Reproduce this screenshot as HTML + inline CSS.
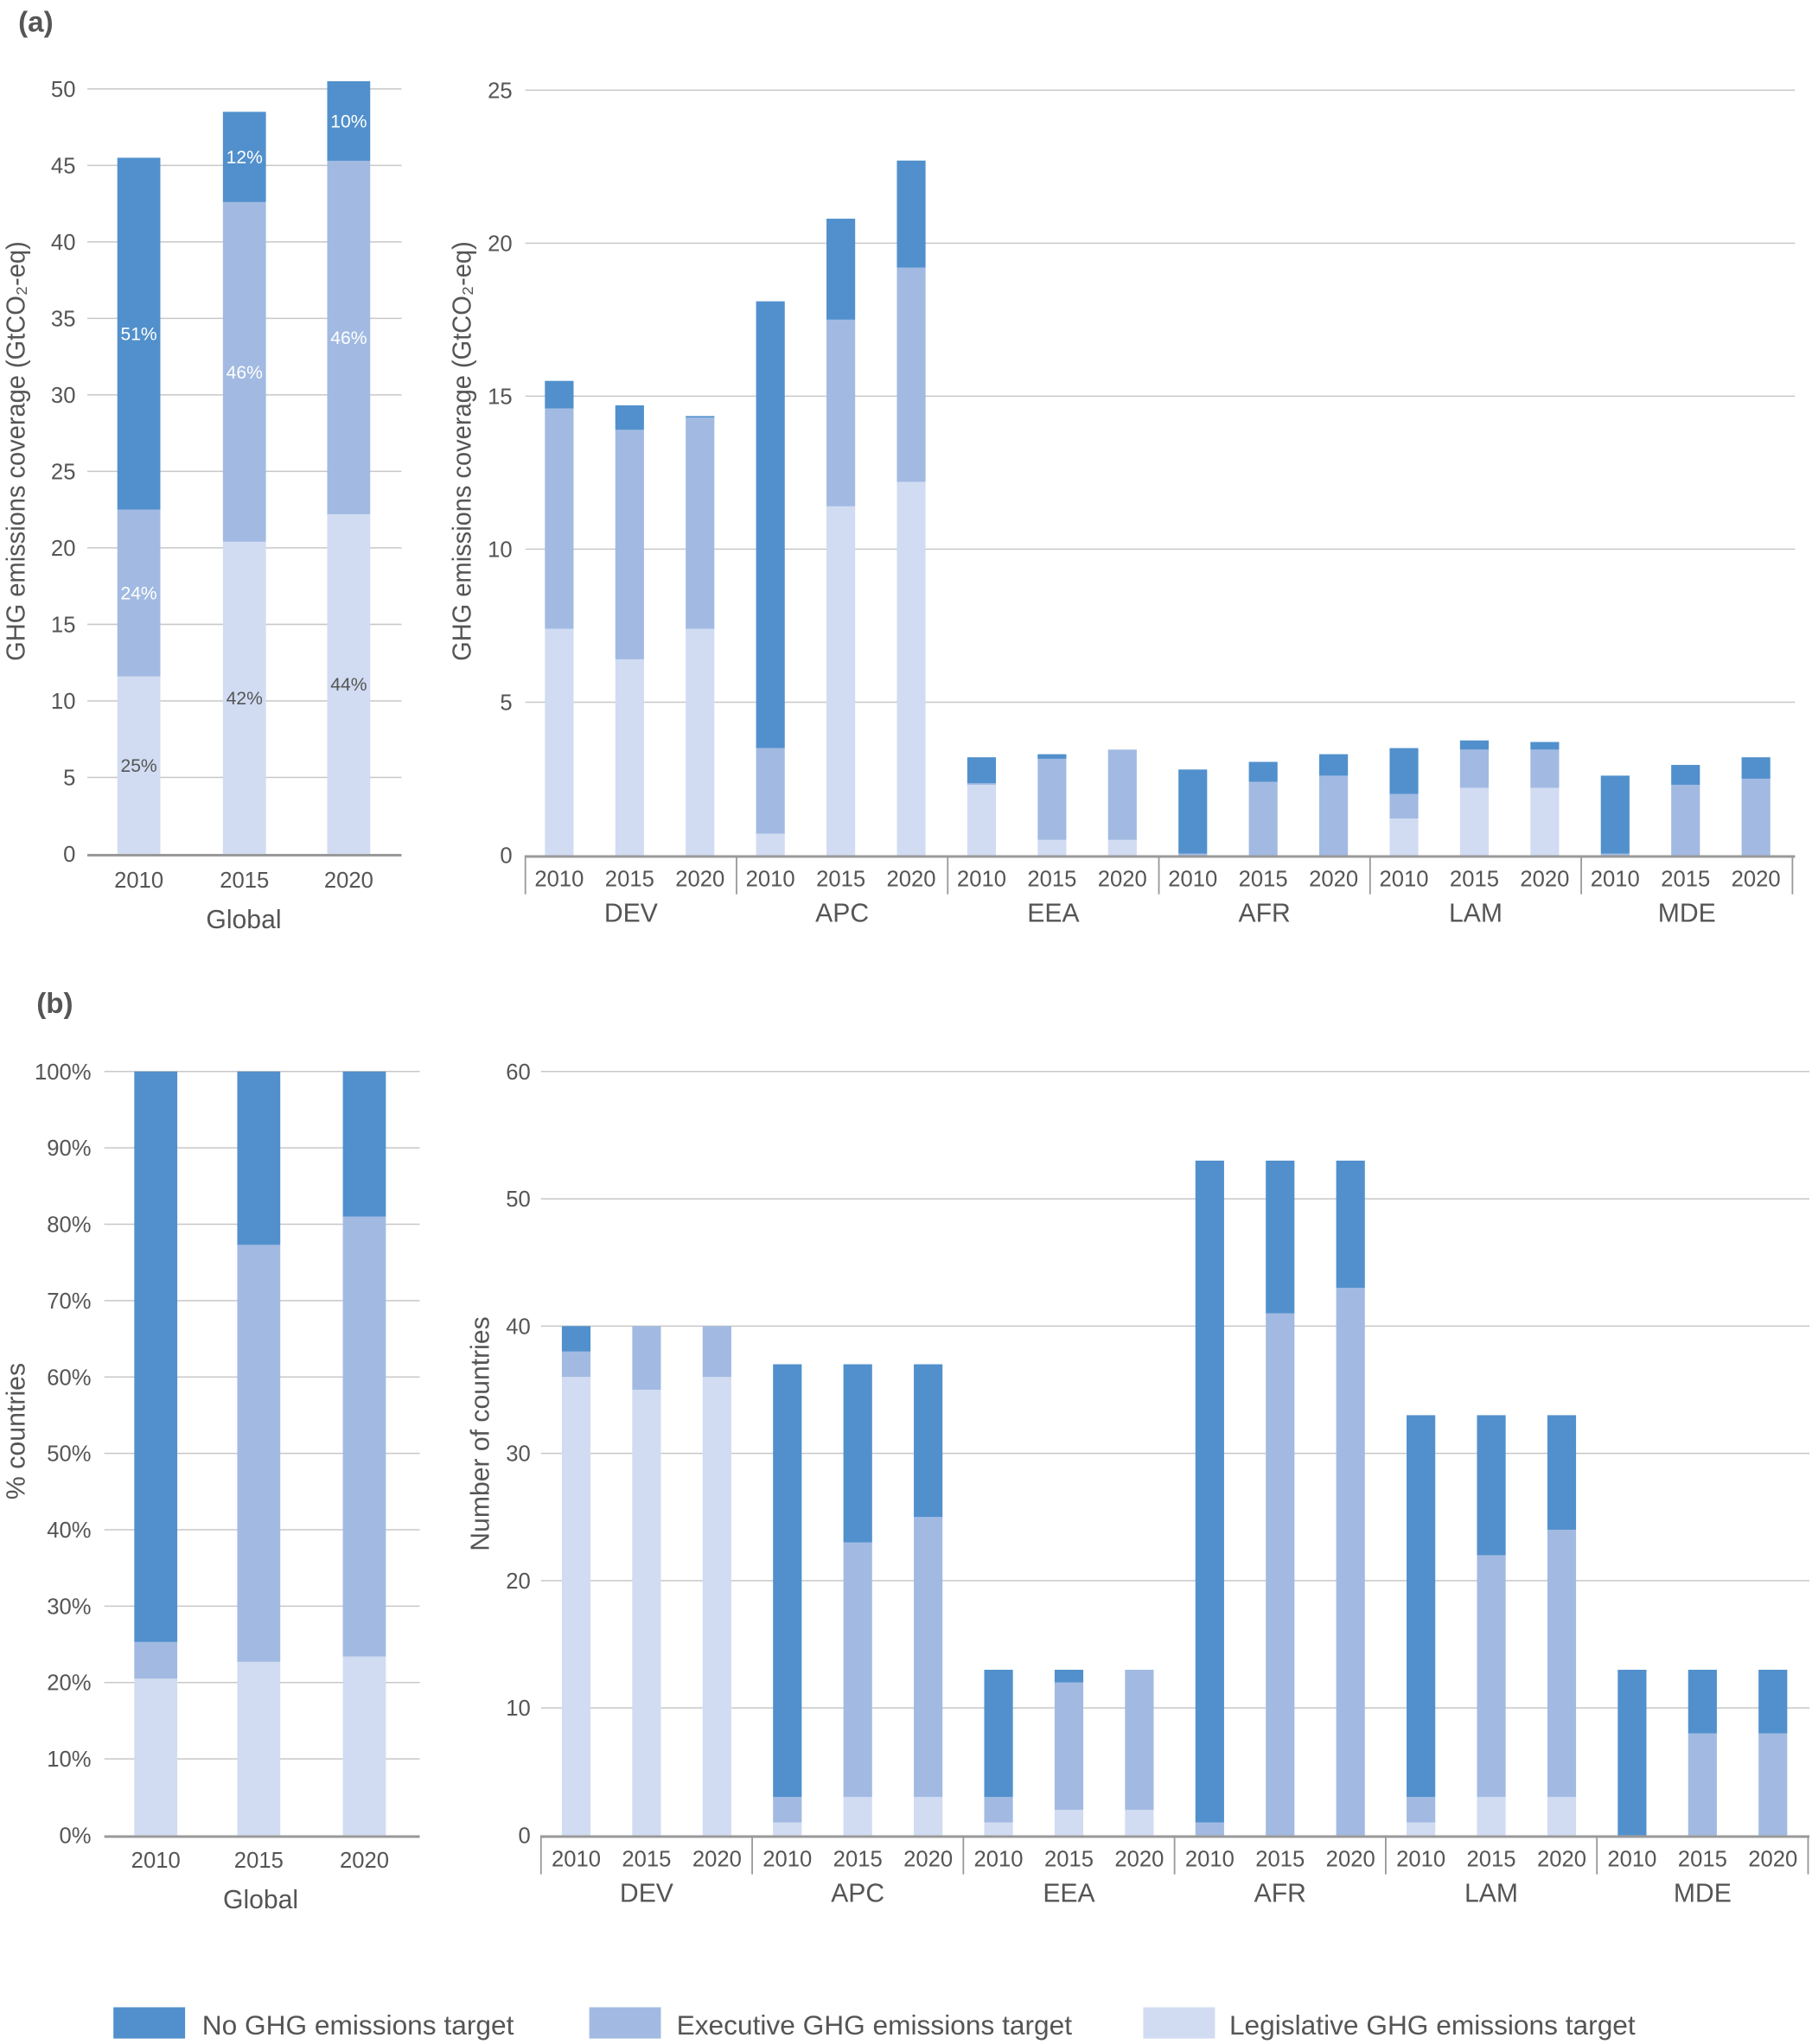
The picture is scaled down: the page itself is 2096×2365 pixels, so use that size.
<!DOCTYPE html>
<html><head><meta charset="utf-8"><style>
html,body{margin:0;padding:0;background:#fff}
svg{display:block}
text{font-family:"Liberation Sans",sans-serif;fill:#555}
</style></head><body>
<svg id="fig" width="2096" height="2365" viewBox="0 0 1390 1568" xmlns="http://www.w3.org/2000/svg">
<text x="14" y="24" font-size="22" font-weight="bold">(a)</text>
<text x="28" y="777" font-size="22" font-weight="bold">(b)</text>
<g>
<rect x="87" y="1540" width="55" height="24" fill="#5190cc"/>
<text x="155" y="1561" font-size="21">No GHG emissions target</text>
<rect x="452" y="1540" width="55" height="24" fill="#a2bae2"/>
<text x="519" y="1561" font-size="21">Executive GHG emissions target</text>
<rect x="877" y="1540" width="55" height="24" fill="#d1dcf2"/>
<text x="943" y="1561" font-size="21">Legislative GHG emissions target</text>
</g>
</svg>
<script>
const years = ["2010","2015","2020"];
const regions = ["DEV","APC","EEA","AFR","LAM","MDE"];
// Panel a global (GtCO2-eq): legislative, executive, none
const aGlobalLeg = [11.6, 20.4, 22.2];
const aGlobalExe = [10.9, 22.2, 23.1];
const aGlobalNo  = [23.0, 5.9, 5.2];
const aGlobalPctNo  = ["51%","12%","10%"];
const aGlobalPctExe = ["24%","46%","46%"];
const aGlobalPctLeg = ["25%","42%","44%"];
const aGlobalTicks = [0,5,10,15,20,25,30,35,40,45,50];
// Panel a regional
const aRegLeg = [7.4,6.4,7.4, 0.7,11.4,12.2, 2.3,0.5,0.5, 0,0,0, 1.2,2.2,2.2, 0,0,0];
const aRegExe = [7.2,7.5,6.9, 2.8,6.1,7.0, 0.05,2.65,2.95, 0.05,2.4,2.6, 0.8,1.25,1.25, 0.05,2.3,2.5];
const aRegNo  = [0.9,0.8,0.05, 14.6,3.3,3.5, 0.85,0.15,0, 2.75,0.65,0.7, 1.5,0.3,0.25, 2.55,0.65,0.7];
const aRegTicks = [0,5,10,15,20,25];
// Panel b global (% countries)
const bGlobalLeg = [20.5, 22.7, 23.4];
const bGlobalExe = [4.8, 54.6, 57.6];
const bGlobalNo  = [74.7, 22.7, 19.0];
const bGlobalTicks = [0,10,20,30,40,50,60,70,80,90,100];
// Panel b regional (number of countries)
const bRegLeg = [36,35,36, 1,3,3, 1,2,2, 0,0,0, 1,3,3, 0,0,0];
const bRegExe = [2,5,4, 2,20,22, 2,10,11, 1,41,43, 2,19,21, 0,8,8];
const bRegNo  = [2,0,0, 34,14,12, 10,1,0, 52,12,10, 30,11,9, 13,5,5];
const bRegTicks = [0,10,20,30,40,50,60];

const C = {no:"#5190cc", exe:"#a2bae2", leg:"#d1dcf2"};
const svg = document.getElementById('fig');
const NS = "http://www.w3.org/2000/svg";
function mk(tag, attrs, parent){
  const e = document.createElementNS(NS, tag);
  for (const k in attrs) e.setAttribute(k, attrs[k]);
  (parent||svg).appendChild(e);
  return e;
}
function txt(s, attrs, parent){ const e = mk('text', attrs, parent); e.textContent = s; return e; }

function axis(cfg){
  const g = mk('g', {});
  
  
  const y = v => cfg.y0 - (v - 0) / cfg.max * (cfg.y0 - cfg.yTop);
  cfg.ticks.forEach(t => {
    if (t !== 0) {
      const l = mk('line', {x1:cfg.gx0, x2:cfg.gx1, y1:y(t), y2:y(t), stroke:"#c8c8c8", "stroke-width":1}, g);
      
      
    }
    const tl = txt(cfg.fmt ? cfg.fmt(t) : String(t), {x:cfg.labX, y:y(t)+6, "font-size":17, "text-anchor":"end"}, g);
    
    
  });
  const ax = mk('line', {x1:cfg.gx0, x2:cfg.gx1, y1:cfg.y0+1, y2:cfg.y0+1, stroke:"#999", "stroke-width":2}, g);
  
  
  const tt = txt(cfg.title, {transform:`translate(${cfg.titleX},${cfg.titleY}) rotate(-90)`, "font-size":20, "text-anchor":"middle", textLength:cfg.titleLen, lengthAdjust:"spacingAndGlyphs"}, g);
  
  
  return {g, y};
}

function stacks(g, y, xs, w, leg, exe, no){
  xs.forEach((x, i) => {
    const parts = [[leg[i], C.leg, 'bar-legislative'], [exe[i], C.exe, 'bar-executive'], [no[i], C.no, 'bar-none']];
    let base = 0;
    parts.forEach(p => {
      if (p[0] > 0) {
        const r = mk('rect', {x:x, width:w, y:y(base+p[0]), height:y(base)-y(base+p[0]), fill:p[1]}, g);
        
        
      }
      base += p[0];
    });
  });
}

// ---------- Panel a global ----------
(function(){
  const cfg = {name:'panel-a-global', y0:655, yTop:68, max:50, ticks:aGlobalTicks, gx0:67, gx1:308, labX:58, title:"GHG emissions coverage (GtCO\u2082-eq)", titleX:19, titleY:346, titleLen:322};
  const {g, y} = axis(cfg);
  const xs = [90, 171, 251];
  stacks(g, y, xs, 33, aGlobalLeg, aGlobalExe, aGlobalNo);
  xs.forEach((x, i) => {
    const cx = x + 16.5;
    const l1 = aGlobalLeg[i], l2 = l1 + aGlobalExe[i], l3 = l2 + aGlobalNo[i];
    const p1 = txt(aGlobalPctLeg[i], {x:cx, y:y(l1/2)+5, "font-size":14, "text-anchor":"middle"}, g);
    
    
    const p2 = txt(aGlobalPctExe[i], {x:cx, y:y((l1+l2)/2)+5, "font-size":14, "text-anchor":"middle", style:"fill:#fff"}, g);
    
    
    const p3 = txt(aGlobalPctNo[i], {x:cx, y:y((l2+l3)/2)+5, "font-size":14, "text-anchor":"middle", style:"fill:#fff"}, g);
    
    
    const yl = txt(years[i], {x:cx, y:681, "font-size":17, "text-anchor":"middle"}, g);
    
    
  });
  const gl = txt("Global", {x:187, y:712, "font-size":20, "text-anchor":"middle"}, g);
  
  
})();

function regional(cfg, leg, exe, no){
  const {g, y} = axis(cfg);
  const xs = [];
  for (let i = 0; i < 18; i++) xs.push(cfg.bx0 + i*54);
  stacks(g, y, xs, 22, leg, exe, no);
  xs.forEach((x, i) => {
    const yl = txt(years[i%3], {x:x+11, y:cfg.y0+24, "font-size":17, "text-anchor":"middle"}, g);
    
    
  });
  for (let k = 0; k <= 6; k++) {
    const sx = cfg.gx0 + k*162;
    const s = mk('line', {x1:sx, x2:sx, y1:cfg.y0, y2:cfg.y0+30, stroke:"#999", "stroke-width":1.2}, g);
    
    
  }
  regions.forEach((r, k) => {
    const rl = txt(r, {x:cfg.gx0 + k*162 + 81, y:cfg.y0+51, "font-size":20, "text-anchor":"middle"}, g);
    
    
  });
}
regional({name:'panel-a-regional', y0:656, yTop:69, max:25, ticks:aRegTicks, gx0:403, gx1:1377, labX:393, bx0:418, title:"GHG emissions coverage (GtCO\u2082-eq)", titleX:361, titleY:346, titleLen:322}, aRegLeg, aRegExe, aRegNo);

// ---------- Panel b global ----------
(function(){
  const cfg = {name:'panel-b-global', y0:1408, yTop:822, max:100, ticks:bGlobalTicks, gx0:80, gx1:322, labX:70, fmt:t=>t+"%", title:"% countries", titleX:19, titleY:1098, titleLen:105};
  const {g, y} = axis(cfg);
  const xs = [103, 182, 263];
  stacks(g, y, xs, 33, bGlobalLeg, bGlobalExe, bGlobalNo);
  xs.forEach((x, i) => {
    const yl = txt(years[i], {x:x+16.5, y:1433, "font-size":17, "text-anchor":"middle"}, g);
    
    
  });
  const gl = txt("Global", {x:200, y:1464, "font-size":20, "text-anchor":"middle"}, g);
  
  
})();
regional({name:'panel-b-regional', y0:1408, yTop:822, max:60, ticks:bRegTicks, gx0:415, gx1:1388, labX:407, bx0:431, title:"Number of countries", titleX:375, titleY:1100, titleLen:180}, bRegLeg, bRegExe, bRegNo);
</script>
</body></html>
